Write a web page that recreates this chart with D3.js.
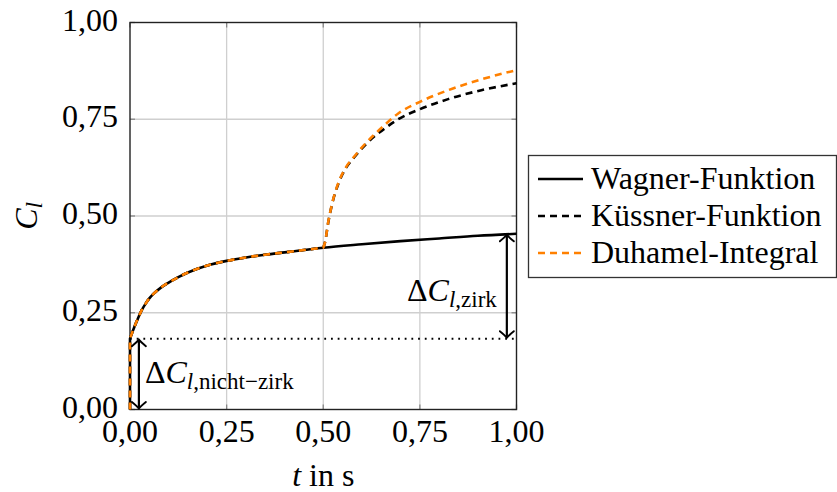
<!DOCTYPE html>
<html>
<head>
<meta charset="utf-8">
<script src="https://cdn.jsdelivr.net/npm/d3@7/dist/d3.min.js"></script>
<style>
  body { margin: 0; background: #fff; }
  svg { display: block; }
  text { font-family: "Liberation Serif", "Times New Roman", serif; fill: #000; }
</style>
</head>
<body>
<div id="chart"></div>
<script>
// tick values and labels
var xTicks = [0, 0.25, 0.5, 0.75, 1.0];
var yTicks = [0, 0.25, 0.5, 0.75, 1.0];
var tickLabels = ["0,00", "0,25", "0,50", "0,75", "1,00"];

// Wagner (step response)
var wagnerT = [0, 0, 0.005, 0.01, 0.02, 0.03, 0.04, 0.05, 0.06, 0.08, 0.1, 0.125, 0.15, 0.2, 0.25, 0.3, 0.35, 0.4, 0.45, 0.5, 0.6, 0.7, 0.8, 0.9, 1.0];
var wagnerC = [0, 0.183, 0.197, 0.21, 0.234, 0.256, 0.273, 0.287, 0.298, 0.315, 0.328, 0.342, 0.354, 0.372, 0.384, 0.393, 0.400, 0.406, 0.412, 0.418, 0.427, 0.435, 0.442, 0.449, 0.454];

// gust part after t = 0.5
var kuessnerT = [0.5, 0.505, 0.513, 0.522, 0.54, 0.557, 0.583, 0.609, 0.635, 0.651, 0.694, 0.75, 0.823, 0.909, 1.0];
var kuessnerC = [0.418, 0.434, 0.484, 0.527, 0.586, 0.621, 0.655, 0.684, 0.708, 0.720, 0.750, 0.776, 0.802, 0.825, 0.843];
var duhamelT = [0.5, 0.505, 0.513, 0.522, 0.54, 0.557, 0.583, 0.609, 0.635, 0.651, 0.694, 0.75, 0.823, 0.909, 1.0];
var duhamelC = [0.418, 0.434, 0.485, 0.528, 0.588, 0.623, 0.657, 0.687, 0.713, 0.728, 0.765, 0.795, 0.825, 0.853, 0.877];

var legendNames = ["Wagner-Funktion", "Küssner-Funktion", "Duhamel-Integral"];
var legendColors = ["#000", "#000", "#ff8000"];
var legendDash = [null, "7,5", "7,5"];

// annotation values
var ncLevel = 0.183, zirkTop = 0.454;
var ncArrowT = 0.023, zirkArrowT = 0.975;

var W = 837, H = 492;
var m = { top: 22.5, right: 320.5, bottom: 82.5, left: 130 };
var FS = 32, SUB = 23;

var svg = d3.select("#chart").append("svg")
    .attr("width", W)
    .attr("height", H);

var x = d3.scaleLinear().domain([0, 1]).range([m.left, W - m.right]);
var y = d3.scaleLinear().domain([0, 1]).range([H - m.bottom, m.top]);

var defs = svg.append("defs");
defs.append("marker")
    .attr("id", "tip")
    .attr("viewBox", "-8 -8 10 16")
    .attr("markerWidth", 10)
    .attr("markerHeight", 16)
    .attr("refX", 0)
    .attr("refY", 0)
    .attr("markerUnits", "userSpaceOnUse")
    .attr("orient", "auto-start-reverse")
    .append("path")
    .attr("d", "M-6.5,-7 Q-2,-1.5 0,0 Q-2,1.5 -6.5,7")
    .attr("fill", "none")
    .attr("stroke", "#000")
    .attr("stroke-width", 1.9)
    .attr("stroke-linecap", "round");

// grid
var grid = svg.append("g");
grid.selectAll(".gx").data(xTicks.slice(1, -1)).enter().append("line")
    .attr("x1", function(d) { return x(d); })
    .attr("x2", function(d) { return x(d); })
    .attr("y1", y(0)).attr("y2", y(1))
    .attr("stroke", "#cfcfcf").attr("stroke-width", 1.3);
grid.selectAll(".gy").data(yTicks.slice(1, -1)).enter().append("line")
    .attr("y1", function(d) { return y(d); })
    .attr("y2", function(d) { return y(d); })
    .attr("x1", x(0)).attr("x2", x(1))
    .attr("stroke", "#cfcfcf").attr("stroke-width", 1.3);

// inner ticks on all four sides
var tk = svg.append("g").attr("stroke", "#888").attr("stroke-width", 1.3);
xTicks.forEach(function(d) {
    tk.append("line").attr("x1", x(d)).attr("x2", x(d)).attr("y1", y(0)).attr("y2", y(0) - 5);
    tk.append("line").attr("x1", x(d)).attr("x2", x(d)).attr("y1", y(1)).attr("y2", y(1) + 5);
});
yTicks.forEach(function(d) {
    tk.append("line").attr("y1", y(d)).attr("y2", y(d)).attr("x1", x(0)).attr("x2", x(0) + 5);
    tk.append("line").attr("y1", y(d)).attr("y2", y(d)).attr("x1", x(1)).attr("x2", x(1) - 5);
});

// frame
svg.append("rect")
    .attr("x", x(0)).attr("y", y(1))
    .attr("width", x(1) - x(0)).attr("height", y(0) - y(1))
    .attr("fill", "none").attr("stroke", "#222").attr("stroke-width", 1.4);

// tick labels
svg.selectAll(".xl").data(xTicks).enter().append("text")
    .attr("x", function(d) { return x(d); })
    .attr("y", y(0) + 32.5)
    .attr("text-anchor", "middle")
    .attr("font-size", FS)
    .text(function(d, i) { return tickLabels[i]; });
svg.selectAll(".yl").data(yTicks).enter().append("text")
    .attr("x", x(0) - 12)
    .attr("y", function(d) { return y(d) + 8; })
    .attr("text-anchor", "end")
    .attr("font-size", FS)
    .text(function(d, i) { return tickLabels[i]; });

// axis labels
var xl = svg.append("text")
    .attr("x", (x(0) + x(1)) / 2)
    .attr("y", 486)
    .attr("text-anchor", "middle")
    .attr("font-size", FS);
xl.append("tspan").attr("font-style", "italic").text("t");
xl.append("tspan").text(" in s");

var yl = svg.append("text")
    .attr("transform", "translate(37," + ((y(0) + y(1)) / 2) + ") rotate(-90)")
    .attr("text-anchor", "middle")
    .attr("font-size", FS);
yl.append("tspan").attr("font-style", "italic").text("C");
yl.append("tspan").attr("font-style", "italic").attr("font-size", SUB).attr("dy", 5).text("l");

// curves
var line = d3.line()
    .x(function(d) { return x(d[0]); })
    .y(function(d) { return y(d[1]); })
    .curve(d3.curveMonotoneX);

function pairs(ts, cs) {
    return ts.map(function(t, i) { return [t, cs[i]]; });
}
var wag = pairs(wagnerT, wagnerC);
var jump = "M" + x(wag[0][0]) + "," + y(wag[0][1]);
var wagRest = wag.slice(1);
var wagPre = wagRest.filter(function(d) { return d[0] <= 0.5; });

function join(parts) {
    return parts.map(function(p, i) { return i === 0 ? p : "L" + p.slice(1); }).join("");
}

var paths = [
    join([jump, line(wagRest)]),
    join([jump, line(wagPre), line(pairs(kuessnerT, kuessnerC))]),
    join([jump, line(wagPre), line(pairs(duhamelT, duhamelC))])
];

svg.append("g").selectAll("path").data(paths).enter().append("path")
    .attr("d", function(d) { return d; })
    .attr("fill", "none")
    .attr("stroke", function(d, i) { return legendColors[i]; })
    .attr("stroke-width", 2.6)
    .attr("stroke-dasharray", function(d, i) { return legendDash[i]; })
    .attr("stroke-linejoin", "round");

// dotted reference
svg.append("line")
    .attr("x1", x(0)).attr("x2", x(1))
    .attr("y1", y(ncLevel)).attr("y2", y(ncLevel))
    .attr("stroke", "#000").attr("stroke-width", 2)
    .attr("stroke-dasharray", "1.8,4.9");

// arrows
var arrows = [[ncArrowT, 0, ncLevel], [zirkArrowT, ncLevel, zirkTop]];
svg.append("g").selectAll("line").data(arrows).enter().append("line")
    .attr("x1", function(d) { return x(d[0]); })
    .attr("x2", function(d) { return x(d[0]); })
    .attr("y1", function(d) { return y(d[1]) - 1; })
    .attr("y2", function(d) { return y(d[2]) + 1; })
    .attr("stroke", "#000").attr("stroke-width", 2.2)
    .attr("marker-start", "url(#tip)")
    .attr("marker-end", "url(#tip)");

function deltaLabel(px, py, anchor, sub) {
    var t = svg.append("text")
        .attr("x", px).attr("y", py)
        .attr("text-anchor", anchor)
        .attr("font-size", FS);
    t.append("tspan").text("Δ");
    t.append("tspan").attr("font-style", "italic").text("C");
    t.append("tspan").attr("font-size", SUB).attr("dy", 6).attr("font-style", "italic").text("l");
    t.append("tspan").attr("font-size", SUB).text("," + sub);
}
deltaLabel(x(ncArrowT) + 6, 383, "start", "nicht−zirk");
deltaLabel(x(zirkArrowT) - 10, 301, "end", "zirk");

// legend
var lg = svg.append("g");
lg.append("rect")
    .attr("x", 528.5).attr("y", 155.5)
    .attr("width", 308).attr("height", 122)
    .attr("fill", "#fff").attr("stroke", "#333").attr("stroke-width", 1.3);
var item = lg.selectAll(".it").data(legendNames).enter().append("g")
    .attr("transform", function(d, i) { return "translate(0," + (179 + i * 37) + ")"; });
item.append("line")
    .attr("x1", 538).attr("x2", 583)
    .attr("stroke", function(d, i) { return legendColors[i]; })
    .attr("stroke-width", 2.6)
    .attr("stroke-dasharray", function(d, i) { return legendDash[i]; });
item.append("text")
    .attr("x", 591).attr("y", 9.5)
    .attr("font-size", FS)
    .text(function(d) { return d; });
</script>
</body>
</html>
